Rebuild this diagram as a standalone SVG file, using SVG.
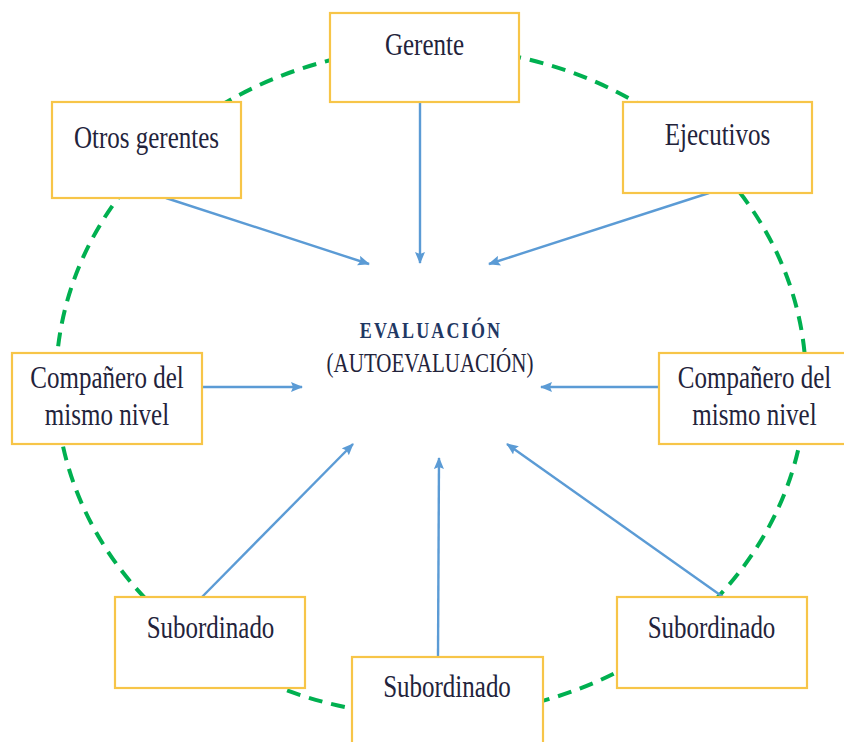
<svg xmlns="http://www.w3.org/2000/svg" width="844" height="742" viewBox="0 0 844 742">
<style>
.box{fill:#fff;stroke:#f7c548;stroke-width:2.2}
.lbl{font-family:"Liberation Serif","Times New Roman",serif;font-size:25px;fill:#23233b;text-anchor:middle}
.conn{stroke:#5b9bd5;stroke-width:2.4;fill:none;marker-end:url(#ah)}
.ring{fill:none;stroke:#00b050;stroke-width:4;stroke-dasharray:14 9}
</style>
<defs>
<marker id="ah" markerUnits="userSpaceOnUse" markerWidth="12" markerHeight="10" refX="11" refY="5" orient="auto">
<path d="M0,0 L12,5 L0,10 L2,5 z" fill="#5b9bd5"/>
</marker>
</defs>
<rect width="844" height="742" fill="#fff"/>
<ellipse class="ring" cx="431" cy="382" rx="375" ry="334"/>
<g id="connectors">
<line class="conn" x1="420" y1="102" x2="420" y2="263"/>
<line class="conn" x1="166" y1="198" x2="369" y2="264"/>
<line class="conn" x1="709" y1="193" x2="489" y2="264"/>
<line class="conn" x1="202" y1="387" x2="302" y2="387"/>
<line class="conn" x1="659" y1="387" x2="541" y2="387"/>
<line class="conn" x1="202" y1="597" x2="353" y2="444"/>
<line class="conn" x1="438" y1="657" x2="439" y2="458"/>
<line class="conn" x1="723" y1="597" x2="507" y2="444"/>
</g>
<g id="center">
<text transform="translate(431,338) scale(1,1.3)" style="font-family:'Liberation Serif','Times New Roman',serif;font-size:18px;font-weight:bold;letter-spacing:2.2px;fill:#1f3864;text-anchor:middle">EVALUACIÓN</text>
<text transform="translate(430,372) scale(1,1.3)" style="font-family:'Liberation Serif','Times New Roman',serif;font-size:21px;fill:#23233b;text-anchor:middle">(AUTOEVALUACIÓN)</text>
</g>
<g id="gerente">
<rect class="box" x="330" y="13" width="189" height="89"/>
<text class="lbl" transform="translate(424.5,55) scale(1,1.3)">Gerente</text>
</g>
<g id="otros-gerentes">
<rect class="box" x="52" y="102" width="189" height="96"/>
<text class="lbl" transform="translate(146.5,148) scale(1,1.3)">Otros gerentes</text>
</g>
<g id="ejecutivos">
<rect class="box" x="623" y="102" width="189" height="91"/>
<text class="lbl" transform="translate(717.5,145) scale(1,1.3)">Ejecutivos</text>
</g>
<g id="companero-izq">
<rect class="box" x="12" y="353" width="190" height="91"/>
<text class="lbl" transform="translate(107,388) scale(1,1.3)"><tspan x="0" y="0">Compañero del</tspan><tspan x="0" y="28.5">mismo nivel</tspan></text>
</g>
<g id="companero-der">
<rect class="box" x="659" y="353" width="190" height="91"/>
<text class="lbl" transform="translate(754.5,388) scale(1,1.3)"><tspan x="0" y="0">Compañero del</tspan><tspan x="0" y="28.5">mismo nivel</tspan></text>
</g>
<g id="subordinado-izq">
<rect class="box" x="115" y="597" width="190" height="91"/>
<text class="lbl" transform="translate(210.5,638) scale(1,1.3)">Subordinado</text>
</g>
<g id="subordinado-abajo">
<rect class="box" x="352" y="657" width="191" height="95"/>
<text class="lbl" transform="translate(447,697) scale(1,1.3)">Subordinado</text>
</g>
<g id="subordinado-der">
<rect class="box" x="617" y="597" width="190" height="91"/>
<text class="lbl" transform="translate(711.5,638) scale(1,1.3)">Subordinado</text>
</g>
</svg>
